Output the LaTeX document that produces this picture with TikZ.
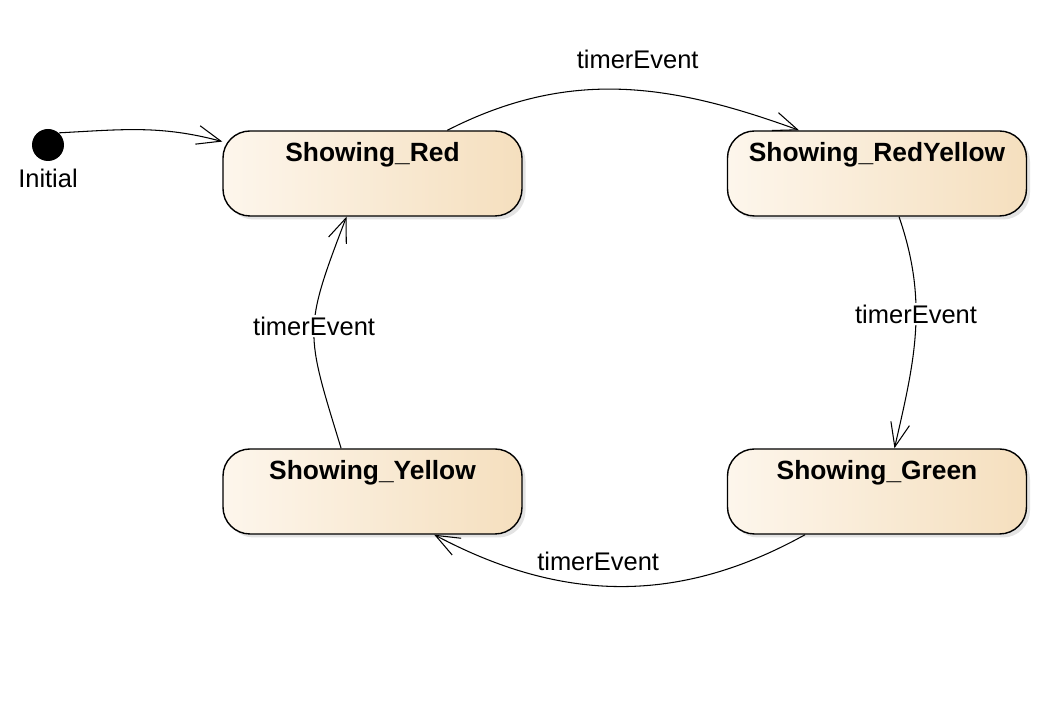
\documentclass[tikz,border=0pt]{standalone}
\usepackage{fontspec}
\setmainfont{Liberation Sans}
\usetikzlibrary{positioning,shadows,arrows.meta}

\definecolor{stateLeft}{RGB}{253,246,236}
\definecolor{stateRight}{RGB}{245,223,190}

\begin{document}
\begin{tikzpicture}[
	state/.style={rectangle, rounded corners=0.54cm, draw=black, line width=0.8pt,
		minimum width=5.98cm, minimum height=1.7cm, inner sep=0pt,
		text height=0.62cm, text depth=1.08cm,
		left color=stateLeft, right color=stateRight,
		drop shadow={shadow xshift=0.07cm, shadow yshift=-0.07cm, fill=black!22},
		font=\fontsize{15pt}{18pt}\selectfont\bfseries},
	trans/.style={line width=0.6pt, -{Straight Barb[length=0.48cm, width=0.38cm]}},
	evt/.style={font=\fontsize{14.5pt}{17pt}\selectfont, inner sep=1pt}]
	\useasboundingbox (0,0) rectangle (21.06,14.06);

	\node[circle, fill=black, minimum size=0.64cm, inner sep=0pt] (init) at (0.96, 11.16) {};
	\node[evt, anchor=base] (initlbl) at (0.96, 10.3) {Initial};

	\node[state] (red) at (7.45, 10.59) {Showing\_Red};
	\node[state] (redyel) at (17.54, 10.59) {Showing\_RedYellow};
	\node[state] (yellow) at (7.45, 4.23) {Showing\_Yellow};
	\node[state] (green) at (17.54, 4.23) {Showing\_Green};

	\draw[trans] (init.48) to[out=3, in=165] (red.168);
	\draw[trans] (red.30) to[out=27, in=160]
		node[evt, above=0.38cm, pos=0.55] (evtA) {timerEvent} (redyel.151);
	\draw[trans] (redyel.297) to[out=-71, in=77]
		node[evt, fill=white, pos=0.42] (evtB) {timerEvent} (green.68);
	\draw[trans] (green.211) to[out=209, in=-28]
		node[evt, above=0.26cm, pos=0.56] (evtC) {timerEvent} (yellow.-35);
	\draw[trans] (yellow.126) to[out=107, in=249, looseness=1.35]
		node[evt, fill=white, pos=0.53] (evtD) {timerEvent} (red.239);
\end{tikzpicture}
\end{document}
